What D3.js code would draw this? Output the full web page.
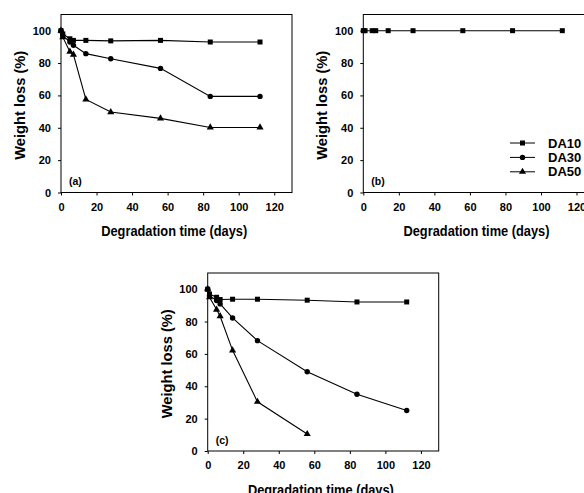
<!DOCTYPE html>
<html>
<head>
<meta charset="utf-8">
<script src="https://cdn.jsdelivr.net/npm/d3@7"></script>
<style>
  body { margin: 0; background: #fff; }
  svg text { font-family: "Liberation Sans", Arial, sans-serif; font-weight: bold; fill: #000; }
</style>
</head>
<body>
<svg id="chart" width="584" height="493"></svg>
<script>
// sampling days (all panels)
const days = [0, 1, 5, 7, 14, 28, 56, 84, 112];
const seriesNames = ["DA10", "DA30", "DA50"];

// panel (a)
const a10 = [100, 98, 95, 94, 94, 93.7, 94, 93, 93];
const a30 = [100, 97, 93, 91, 85.8, 82.7, 76.7, 59.4, 59.4];
const a50 = [100, 96, 87, 85.2, 57.5, 49.7, 45.8, 40.2, 40.2];
// panel (b)
const b10 = [100, 100, 100, 100, 100, 100, 100, 100, 100];
// panel (c)
const c10 = [100, 97, 95, 93.6, 93.8, 93.8, 93.2, 92.1, 92.1];
const c30 = [100, 96, 93, 90.9, 82.2, 68.2, 49, 35.1, 25];
const c50 = [100, 95, 87.4, 83.3, 62.2, 30.4, 10.5];

const xTicks = [0, 20, 40, 60, 80, 100, 120];
const yTicks = [0, 20, 40, 60, 80, 100];

const svg = d3.select("#chart");
const pw = 231, ph = 178;

const symbols = { DA10: d3.symbolSquare, DA30: d3.symbolCircle, DA50: d3.symbolTriangle };
const symSize = { DA10: 25, DA30: 23, DA50: 22 };

const panels = [
  { label: "(a)", left: 61, top: 14.5, series: [["DA50", a50], ["DA30", a30], ["DA10", a10]] },
  { label: "(b)", left: 363.3, top: 14.5, series: [["DA10", b10]], legend: true },
  { label: "(c)", left: 207.7, top: 273, series: [["DA50", c50], ["DA30", c30], ["DA10", c10]] }
];

panels.forEach((p) => {
  const x = d3.scaleLinear().domain([0, 130]).range([0, pw]);
  const y = d3.scaleLinear().domain([0, 110]).range([ph, 0]);
  const g = svg.append("g").attr("transform", `translate(${p.left}, ${p.top})`);

  // frame
  g.append("rect")
    .attr("width", pw).attr("height", ph)
    .attr("fill", "none").attr("stroke", "#000").attr("stroke-width", 1);

  const xAxis = g.append("g")
    .attr("transform", `translate(0, ${ph})`)
    .call(d3.axisBottom(x).tickValues(xTicks).tickSize(3).tickPadding(7.5));
  const yAxis = g.append("g")
    .call(d3.axisLeft(y).tickValues(yTicks).tickSize(3).tickPadding(7));
  [xAxis, yAxis].forEach((ax) => {
    ax.select(".domain").remove();
    ax.selectAll("line").attr("stroke", "#000");
    ax.selectAll("text").attr("font-size", 11).attr("font-family", null);
  });

  // axis titles
  g.append("text")
    .attr("x", pw * 0.49).attr("y", ph + 43.5)
    .attr("text-anchor", "middle").attr("font-size", 14)
    .attr("textLength", 146).attr("lengthAdjust", "spacingAndGlyphs")
    .text("Degradation time (days)");
  g.append("text")
    .attr("transform", `translate(${-36}, ${ph * 0.51}) rotate(-90)`)
    .attr("text-anchor", "middle").attr("font-size", 14.5)
    .attr("textLength", 109).attr("lengthAdjust", "spacingAndGlyphs")
    .text("Weight loss (%)");

  g.append("text")
    .attr("x", 8).attr("y", ph - 7.5)
    .attr("font-size", 10.5)
    .text(p.label);

  const line = d3.line().x((d) => x(d[0])).y((d) => y(d[1]));

  p.series.forEach(([name, vals]) => {
    const pts = vals.map((v, i) => [days[i], v]);
    g.append("path")
      .attr("d", line(pts))
      .attr("fill", "none").attr("stroke", "#000").attr("stroke-width", 1.1);
    g.selectAll(null)
      .data(pts)
      .join("path")
      .attr("transform", (d) => `translate(${x(d[0])}, ${y(d[1])})`)
      .attr("d", d3.symbol(symbols[name], symSize[name]))
      .attr("fill", "#000");
  });

  if (p.legend) {
    const lg = g.append("g").attr("transform", `translate(${510 - p.left}, ${143 - p.top})`);
    seriesNames.forEach((name, i) => {
      const row = lg.append("g").attr("transform", `translate(0, ${i * 14.4})`);
      row.append("line")
        .attr("x1", 0).attr("x2", 25)
        .attr("stroke", "#000").attr("stroke-width", 1);
      row.append("path")
        .attr("transform", "translate(12.5, 0)")
        .attr("d", d3.symbol(symbols[name], symSize[name]))
        .attr("fill", "#000");
      row.append("text")
        .attr("x", 38).attr("y", 4.6)
        .attr("font-size", 13)
        .text(name);
    });
  }
});
</script>
</body>
</html>
